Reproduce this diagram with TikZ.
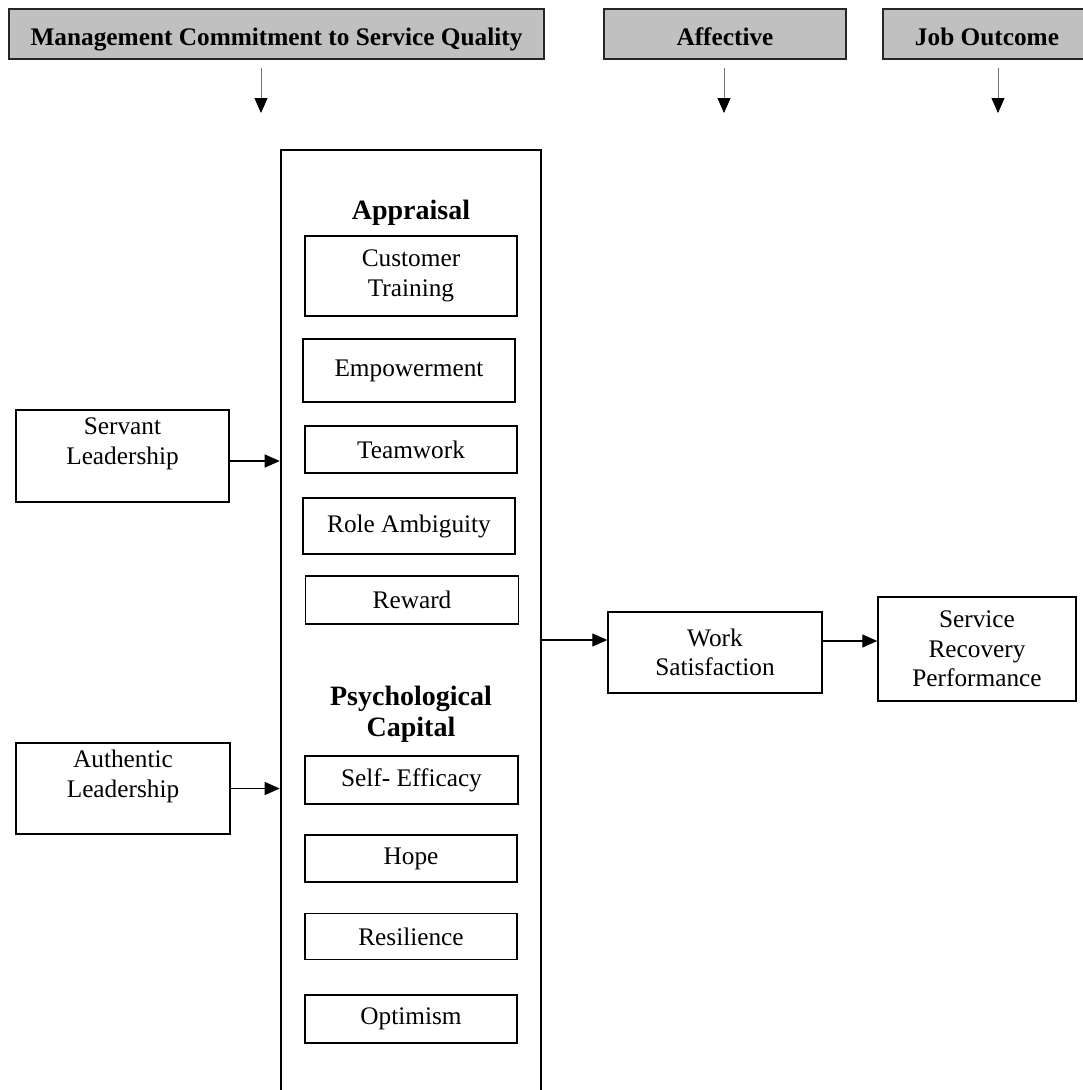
\documentclass[tikz,border=0pt]{standalone}
\usepackage{fontspec}
\setmainfont{Liberation Serif}
\usetikzlibrary{arrows.meta,calc}
\definecolor{hdrgray}{RGB}{192,192,192}
\begin{document}
\begin{tikzpicture}[x=1pt,y=-1pt,
  box/.style={draw=black, line width=1.4pt, fill=white, inner sep=0pt, align=center,
    font=\fontsize{25.3}{29.6}\selectfont},
  hdr/.style={draw=black!85, line width=1.8pt, fill=hdrgray, inner sep=0pt,
    font=\bfseries\fontsize{25.3}{29.6}\selectfont, text height=22pt, text depth=0pt,
    minimum height=50pt},
  sect/.style={inner sep=0pt, align=center, font=\bfseries\fontsize{28}{31}\selectfont},
  arr/.style={line width=1.2pt, -{Triangle[length=15pt,width=13pt]}},
  harr/.style={draw=black!55, line width=0.9pt, -{Triangle[length=15pt,width=13pt,color=black]}}
]
\useasboundingbox (0,0) rectangle (1083,1090);

% header boxes
\node[hdr, minimum width=535pt] (h1) at (276.5,34) {Management Commitment to Service Quality};
\node[hdr, minimum width=242pt] (h2) at (725,34) {Affective};
\node[hdr, minimum width=208pt] (h3) at (987,34) {Job Outcome};

\coordinate (h1a) at (261,68);  \coordinate (h1b) at (261,113);
\coordinate (h2a) at (724,68);  \coordinate (h2b) at (724,113);
\coordinate (h3a) at (998,68);  \coordinate (h3b) at (998,113);
\draw[harr] (h1a) -- (h1b);
\draw[harr] (h2a) -- (h2b);
\draw[harr] (h3a) -- (h3b);

% main container
\node[draw=black, line width=2.6pt, minimum width=260pt, minimum height=970pt, inner sep=0pt] (main) at (411,635) {};

\node[sect, anchor=base] (appr) at (411,219) {Appraisal};
\node[box, minimum width=212pt, minimum height=80pt] (ct) at (411,276) {Customer\\Training};
\node[box, minimum width=212pt, minimum height=63pt] (emp) at (409,370.5) {Empowerment};
\node[box, minimum width=212pt, minimum height=47pt] (team) at (411,449.5) {Teamwork};
\node[box, minimum width=212pt, minimum height=56pt] (role) at (409,526) {Role Ambiguity};
\node[box, minimum width=213pt, minimum height=48pt] (rew) at (412,600) {Reward};

\node[sect] (psy) at (411,714) {Psychological\\Capital};
\node[box, minimum width=213pt, minimum height=48pt] (self) at (411.5,780) {Self- Efficacy};
\node[box, minimum width=212pt, minimum height=47pt] (hope) at (411,858.5) {Hope};
\node[box, minimum width=212pt, minimum height=46pt] (res) at (411,936.5) {Resilience};
\node[box, minimum width=212pt, minimum height=48pt] (opt) at (411,1019) {Optimism};

% left boxes
\node[box, minimum width=213pt, minimum height=92pt] (serv) at (122.5,456) {Servant\\Leadership\\\mbox{}};
\node[box, minimum width=214pt, minimum height=91pt] (auth) at (123,788.5) {Authentic\\Leadership\\\mbox{}};

% right boxes
\node[box, minimum width=214pt, minimum height=81pt] (work) at (715,652.5) {Work\\Satisfaction};
\node[box, minimum width=198pt, minimum height=104pt] (srp) at (977,649) {Service\\Recovery\\Performance};

% connectors
\coordinate (servout) at ([yshift=-5pt]serv.east);
\draw[arr] (servout) -- (servout -| main.west);
\draw[arr] (auth.east) -- (auth.east -| main.west);
\coordinate (workin) at ([yshift=12.5pt]work.west);
\draw[arr] (workin -| main.east) -- (workin);
\coordinate (workout) at ([yshift=11.5pt]work.east);
\draw[arr] (workout) -- (workout -| srp.west);
\end{tikzpicture}
\end{document}
